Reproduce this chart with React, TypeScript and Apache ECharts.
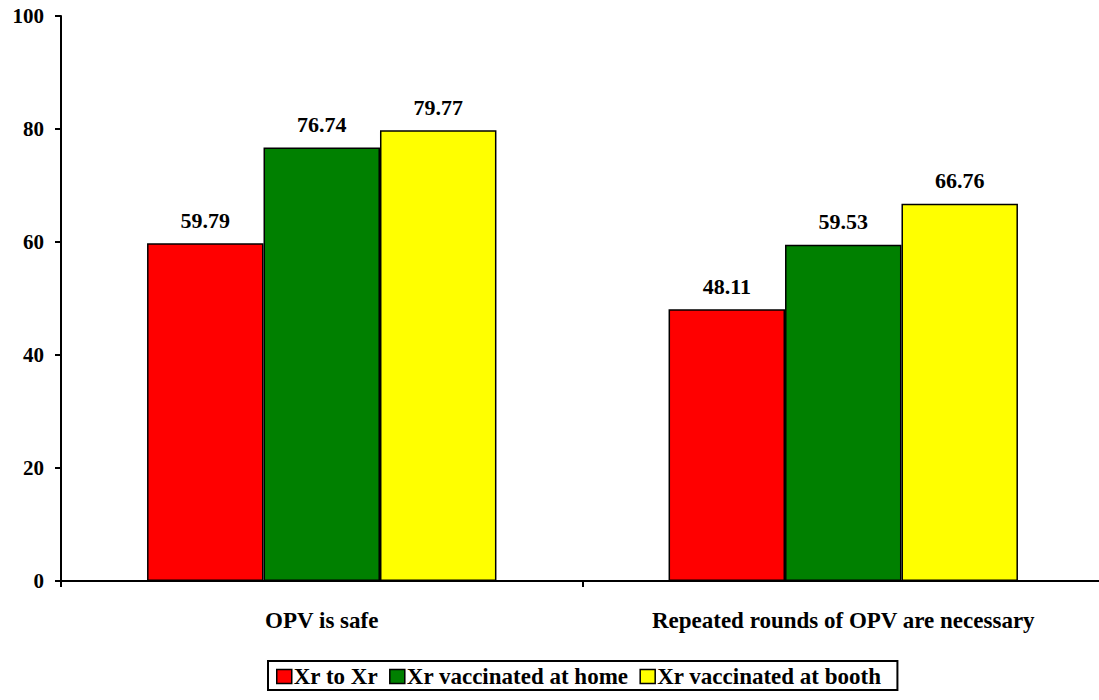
import React, { useEffect, useRef } from "react";
import * as echarts from "echarts";

const categories = ["OPV is safe", "Repeated rounds of OPV are necessary"];
const seriesNames = ["Xr to Xr", "Xr vaccinated at home", "Xr vaccinated at booth"];
const xrToXr = [59.79, 48.11];
const xrHome = [76.74, 59.53];
const xrBooth = [79.77, 66.76];
const seriesColors = ["#ff0000", "#008000", "#ffff00"];
const yTicks = { min: 0, max: 100, interval: 20 };

const FONT = '"Liberation Serif", "Times New Roman", serif';

export default function App() {
  const ref = useRef<HTMLDivElement>(null);

  useEffect(() => {
    if (!ref.current) return;
    const chart = echarts.init(ref.current, null, { renderer: "svg" });
    const values = [xrToXr, xrHome, xrBooth];
    chart.setOption({
      animation: false,
      backgroundColor: "#ffffff",
      textStyle: { fontFamily: FONT },
      // the plot runs a few pixels past the visible edge on the right
      grid: { left: 61, right: 0, top: 16, bottom: 119, containLabel: false },
      legend: {
        data: seriesNames,
        left: 268,
        top: 661,
        icon: "rect",
        itemWidth: 15,
        itemHeight: 14,
        itemGap: 11,
        padding: [4, 16, 2, 8],
        borderColor: "#000",
        borderWidth: 2,
        itemStyle: { borderColor: "#000", borderWidth: 1.5 },
        textStyle: { fontFamily: FONT, fontWeight: "bold", fontSize: 23, color: "#000", padding: [0, 0, 0, -3] },
      },
      xAxis: {
        type: "category",
        data: categories,
        axisLine: { lineStyle: { color: "#000", width: 2 } },
        axisTick: { show: true, length: 6, inside: false, lineStyle: { color: "#000", width: 2 } },
        axisLabel: { fontFamily: FONT, fontWeight: "bold", fontSize: 23, color: "#000", margin: 28 },
        splitLine: { show: false },
      },
      yAxis: {
        type: "value",
        min: yTicks.min,
        max: yTicks.max,
        interval: yTicks.interval,
        axisLine: { show: true, lineStyle: { color: "#000", width: 2 } },
        axisTick: { show: true, length: 6, lineStyle: { color: "#000", width: 2 } },
        axisLabel: { fontFamily: FONT, fontWeight: "bold", fontSize: 21, color: "#000", margin: 17 },
        splitLine: { show: false },
      },
      series: seriesNames.map((name, i) => ({
        name,
        type: "bar",
        data: values[i],
        barGap: "0%",
        barCategoryGap: "33%",
        itemStyle: { color: seriesColors[i], borderColor: "#000", borderWidth: 1.5 },
        label: {
          show: true,
          position: "top",
          distance: 12,
          fontFamily: FONT,
          fontWeight: "bold",
          fontSize: 22,
          color: "#000",
          formatter: (p: any) => p.value.toFixed(2),
        },
      })),
    });
    return () => chart.dispose();
  }, []);

  return (
    <div style={{ position: "absolute", left: 0, top: 0, width: 1099, height: 700, overflow: "hidden" }}>
      <div ref={ref} style={{ width: 1104, height: 700 }} />
    </div>
  );
}
